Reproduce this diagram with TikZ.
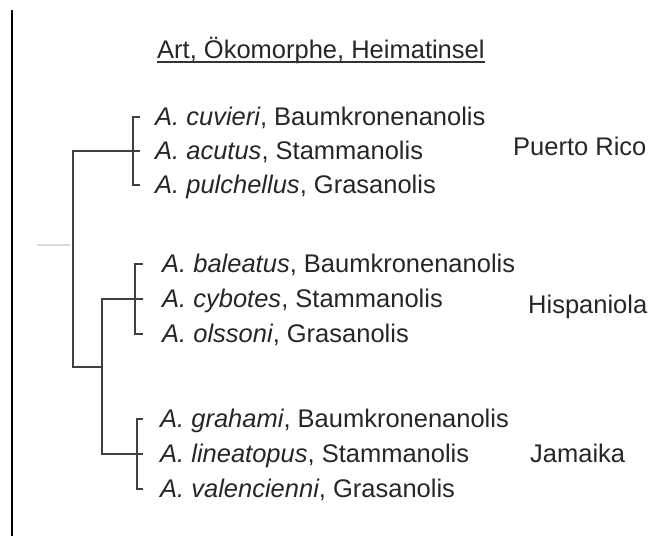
\documentclass[tikz,border=0pt]{standalone}
\usepackage{fontspec}
\setmainfont{Liberation Sans}

\begin{document}
\begin{tikzpicture}[
		x=1pt, y=-1pt,
		label text/.style={anchor=base west, inner sep=0pt, text=black!85, font=\fontsize{25.5}{30}\selectfont},
		species/.style={label text, text height=18pt, text depth=2pt},
		branch/.style={draw=black!75, line width=1.2pt},
		stub/.style={draw=black!15, line width=1.2pt},
		frame line/.style={draw=black, line width=2pt}
		]
		\useasboundingbox (0,0) rectangle (657,536);
		
		% ---------------------------------------------------------
		% Frame and heading
		% ---------------------------------------------------------
		\draw[frame line] (12,10) -- (12,536);
		
		\node[label text] (heading) at (157,58) {Art, Ökomorphe, Heimatinsel};
		\draw[draw=black!80, line width=1.3pt] ([yshift=-4pt]heading.base west) -- ([yshift=-4pt]heading.base east);
		
		% ---------------------------------------------------------
		% Species names, grouped by island
		% ---------------------------------------------------------
		\foreach \n/\sp/\eco/\y in {cuv/cuvieri/Baumkronenanolis/125, acu/acutus/Stammanolis/159, pul/pulchellus/Grasanolis/193} {
			\node[species] (\n) at (155,\y) {\textit{A. \sp}, \eco};
		}
		\foreach \n/\sp/\eco/\y in {bal/baleatus/Baumkronenanolis/272, cyb/cybotes/Stammanolis/307, ols/olssoni/Grasanolis/342} {
			\node[species] (\n) at (162,\y) {\textit{A. \sp}, \eco};
		}
		\foreach \n/\sp/\eco/\y in {gra/grahami/Baumkronenanolis/427, lin/lineatopus/Stammanolis/462, val/valencienni/Grasanolis/497} {
			\node[species] (\n) at (160,\y) {\textit{A. \sp}, \eco};
		}
		
		% Island names
		\node[label text] (puerto) at (513,155) {Puerto Rico};
		\node[label text] (hispa) at (528,313) {Hispaniola};
		\node[label text] (jama) at (530,462) {Jamaika};
		
		% ---------------------------------------------------------
		% The tree
		% ---------------------------------------------------------
		\coordinate (prBar) at (133,0);
		\coordinate (hiBar) at (135,0);
		\coordinate (jaBar) at (137,0);
		\coordinate (prStem) at (73,0);
		\coordinate (rootJoin) at (102,367);
		
		% Island groups
		\draw[branch] ([xshift=-15pt]cuv.west) -- (cuv.west -| prBar) -- (pul.west -| prBar) -- ([xshift=-15pt]pul.west);
		\draw[branch] ([xshift=-19pt]bal.west) -- (bal.west -| hiBar) -- (ols.west -| hiBar) -- ([xshift=-19pt]ols.west);
		\draw[branch] ([xshift=-17pt]gra.west) -- (gra.west -| jaBar) -- (val.west -| jaBar) -- ([xshift=-17pt]val.west);
		
		% Stems
		\draw[branch] ([xshift=-15pt]acu.west) -- (acu.west -| prStem) |- (rootJoin);
		\draw[branch] ([xshift=-19pt]cyb.west) -- (cyb.west -| rootJoin) -- (lin.west -| rootJoin) -- ([xshift=-17pt]lin.west);
		
		% Faint stub left of the root
		\draw[stub] (37,245) -- (70,245);
		
	\end{tikzpicture}
\end{document}
